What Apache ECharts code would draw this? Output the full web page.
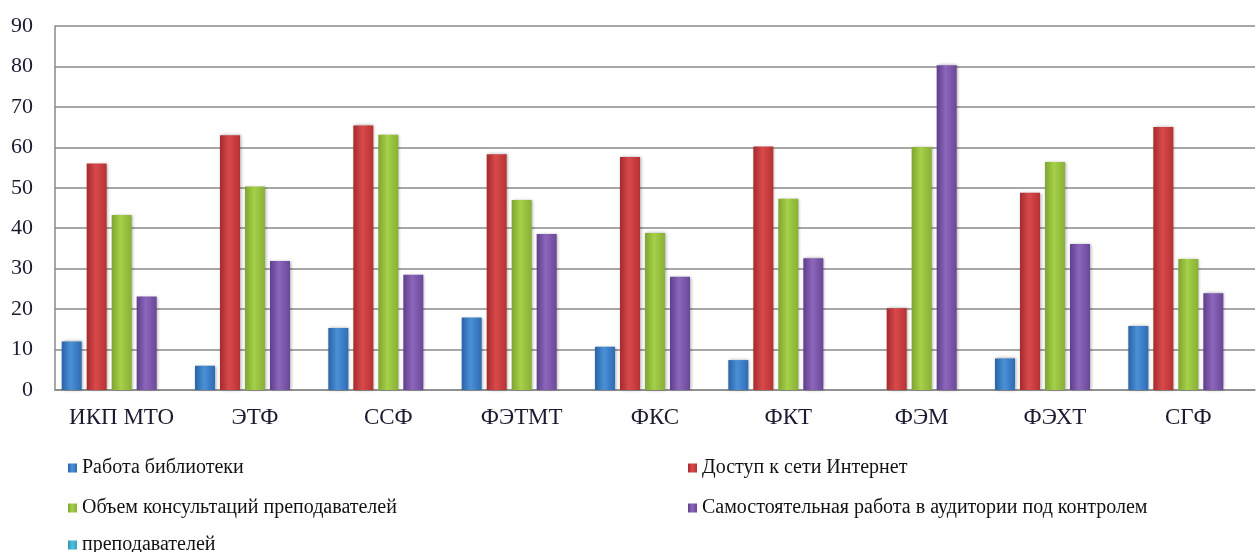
<!DOCTYPE html>
<html>
<head>
<meta charset="utf-8">
<script src="https://cdn.jsdelivr.net/npm/echarts@6/dist/echarts.min.js"></script>
<style>
  html, body { margin: 0; padding: 0; background: #fff; }
  #chart { width: 1256px; height: 552px; }
</style>
</head>
<body>
<div id="chart"></div>
<script>
const faculties = ['ИКП МТО', 'ЭТФ', 'ССФ', 'ФЭТМТ', 'ФКС', 'ФКТ', 'ФЭМ', 'ФЭХТ', 'СГФ']

const library = [12, 6, 15.3, 17.9, 10.7, 7.4, 0, 7.8, 15.8]
const internet = [56, 63, 65.4, 58.3, 57.6, 60.2, 20.2, 48.8, 65]
const consultations = [43.3, 50.3, 63.1, 47, 38.8, 47.3, 60.1, 56.4, 32.4]
const selfWork = [23.1, 31.9, 28.5, 38.6, 28, 32.6, 80.3, 36.1, 23.9]
const teachers = [0, 0, 0, 0, 0, 0, 0, 0, 0]

const seriesNames = [
  'Работа библиотеки',
  'Доступ к сети Интернет',
  'Объем консультаций преподавателей',
  'Самостоятельная работа в аудитории под контролем',
  'преподавателей'
]
const seriesData = [library, internet, consultations, selfWork, teachers]

// edge / middle / light colours per series
const palette = [
  ['#2a62a8', '#4a90d6', '#2f6cb5'],
  ['#a52a2c', '#d9494b', '#b63234'],
  ['#7ea52e', '#a6cf4a', '#88b136'],
  ['#5f3f8c', '#8c66bb', '#6a4899'],
  ['#2f93ae', '#4cc0dc', '#3aa6c2']
]

// legend slots: [left, top] of each entry
const legendSlots = [[68, 458], [688, 458], [68, 498], [688, 498], [68, 535]]

const fontFamily = '"Liberation Serif", "DejaVu Serif", serif'
const textColor = '#1a1a30'

const makeColor = (c) => new echarts.graphic.LinearGradient(0, 0, 1, 0, [
  { offset: 0, color: c[0] },
  { offset: 0.45, color: c[1] },
  { offset: 1, color: c[2] }
])

const chart = echarts.init(document.getElementById('chart'))

chart.setOption({
  backgroundColor: '#ffffff',
  animation: false,
  grid: { left: 55, right: 1, top: 26, bottom: 162 },
  legend: seriesNames.map((name, i) => ({
    data: [name],
    left: legendSlots[i][0],
    top: legendSlots[i][1],
    padding: 0,
    icon: 'rect',
    itemWidth: 9,
    itemHeight: 9,
    textStyle: { fontFamily, fontSize: 20, color: '#111' }
  })),
  xAxis: {
    type: 'category',
    data: faculties,
    axisLine: { lineStyle: { color: '#8a8a8a', width: 1.5 } },
    axisTick: { show: false },
    axisLabel: { interval: 0, color: textColor, fontFamily, fontSize: 23, margin: 16 }
  },
  yAxis: {
    type: 'value',
    min: 0,
    max: 90,
    interval: 10,
    axisLine: { show: true, lineStyle: { color: '#8a8a8a', width: 1.5 } },
    axisTick: { show: false },
    splitLine: { lineStyle: { color: '#8a8a8a', width: 1.5 } },
    axisLabel: { color: textColor, fontFamily, fontSize: 22, margin: 22 }
  },
  series: seriesData.map((data, i) => ({
    name: seriesNames[i],
    type: 'bar',
    data: data,
    barWidth: 20,
    barGap: '25%',
    color: palette[i][1],
    itemStyle: {
      color: makeColor(palette[i]),
      shadowColor: 'rgba(0,0,0,0.35)',
      shadowBlur: 3,
      shadowOffsetX: 1,
      shadowOffsetY: 0
    }
  }))
})
</script>
</body>
</html>
